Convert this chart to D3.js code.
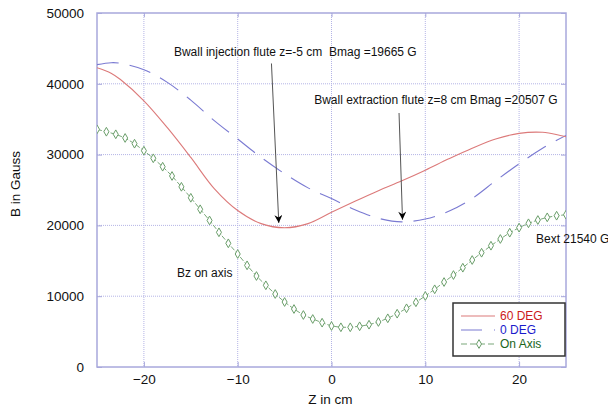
<!DOCTYPE html>
<html>
<head>
<meta charset="utf-8">
<script src="https://cdn.jsdelivr.net/npm/d3@7/dist/d3.min.js"></script>
<style>
  body { margin: 0; background: #fff; }
  text { font-family: Arial, "Liberation Sans", sans-serif; }
</style>
</head>
<body>
<svg></svg>
<script>
// field along z
const curveZ = [-25, -23.5, -22.5, -20, -17.5, -15, -12.5, -10, -7.5, -5, -2.5, 0, 2.5, 5, 7.5, 10, 12.5, 15, 17.5, 20, 22.5, 25];
const deg60 = [42270, 41500, 40600, 37600, 33800, 29600, 25200, 22100, 20250, 19665, 20250, 21850, 23400, 24900, 26300, 27800, 29400, 30900, 32200, 33000, 33150, 32530];
const deg0 = [42700, 42980, 42900, 42000, 40200, 37700, 34800, 32200, 29600, 27300, 25300, 23800, 22200, 21000, 20500, 20900, 22000, 23800, 26300, 28700, 30900, 32700];

const axisZ = [-25, -24, -23, -22, -21, -20, -19, -18, -17, -16, -15, -14, -13, -12, -11, -10, -9, -8, -7, -6, -5, -4, -3, -2, -1,
  0, 1, 2, 3, 4, 5, 6, 7, 8, 9, 10, 11, 12, 13, 14, 15, 16, 17, 18, 19, 20, 21, 22, 23, 24, 25];
const onAxis = [33570, 33230, 32870, 32350, 31540, 30550, 29480, 28290, 26980, 25450, 23900, 22280, 20700, 19025, 17470, 15960, 14360, 12850, 11540, 10310, 9180, 8190, 7345, 6780, 6260,
  5790, 5610, 5610, 5750, 5975, 6360, 6880, 7530, 8290, 9140, 10030, 10975, 12000, 12990, 14025, 15110, 16140, 17130, 18080, 18970, 19680, 20300, 20760, 21140, 21370, 21510];

const xTicks = [-20, -10, 0, 10, 20];
const yTicks = [0, 10000, 20000, 30000, 40000, 50000];

const seriesNames = ['60 DEG', '0 DEG', 'On Axis'];

const notes = [
  { text: 'Bwall injection flute z=-5 cm  Bmag =19665 G', z: -16.8, b: 43900 },
  { text: 'Bwall extraction flute z=8 cm Bmag =20507 G', z: -1.85, b: 37150 },
  { text: 'Bz on axis', z: -16.46, b: 12780 },
  { text: 'Bext 21540 G', z: 21.8, b: 17510 }
];
const arrows = [
  { z1: -6.4, b1: 42870, z2: -5.62, b2: 20340 },
  { z1: 7.2, b1: 35875, z2: 7.57, b2: 20800 }
];

const width = 608;
const height = 411;
const plotL = 97, plotR = 566, plotT = 13, plotB = 367;

const svg = d3.select('svg')
    .attr('width', width)
    .attr('height', height);

const x = d3.scaleLinear().domain([-25, 25]).range([plotL, plotR]);
const y = d3.scaleLinear().domain([0, 50000]).range([plotB, plotT]);

// grid
svg.append('g')
  .selectAll('line')
  .data(xTicks)
  .join('line')
    .attr('x1', d => x(d)).attr('x2', d => x(d))
    .attr('y1', plotT).attr('y2', plotB)
    .attr('stroke', '#b4b4e6')
    .attr('stroke-width', 1)
    .attr('stroke-dasharray', '1,1');

svg.append('g')
  .selectAll('line')
  .data(yTicks.slice(1, -1))
  .join('line')
    .attr('x1', plotL).attr('x2', plotR)
    .attr('y1', d => y(d)).attr('y2', d => y(d))
    .attr('stroke', '#b4b4e6')
    .attr('stroke-width', 1)
    .attr('stroke-dasharray', '1,1');

// axes, ticks inside
const axisColor = '#a8a8dc';
const fmt = d3.format('d');
svg.append('g')
    .attr('transform', `translate(0,${plotB})`)
    .call(d3.axisBottom(x).tickValues(xTicks).tickSize(-5).tickPadding(7).tickFormat(fmt))
    .call(g => g.select('.domain').remove());
svg.append('g')
    .attr('transform', `translate(0,${plotT})`)
    .call(d3.axisTop(x).tickValues(xTicks).tickSize(-4).tickFormat(''))
    .call(g => g.select('.domain').remove());
svg.append('g')
    .attr('transform', `translate(${plotL},0)`)
    .call(d3.axisLeft(y).tickValues(yTicks).tickSize(-5).tickPadding(13).tickFormat(fmt))
    .call(g => g.select('.domain').remove());
svg.append('g')
    .attr('transform', `translate(${plotR},0)`)
    .call(d3.axisRight(y).tickValues(yTicks).tickSize(-5).tickFormat(''))
    .call(g => g.select('.domain').remove());

svg.selectAll('.tick line').attr('stroke', axisColor);
svg.selectAll('.tick text')
    .attr('fill', '#111')
    .style('font-size', '13.5px')
    .style('font-family', 'Arial, "Liberation Sans", sans-serif');

svg.append('rect')
    .attr('x', plotL).attr('y', plotT)
    .attr('width', plotR - plotL).attr('height', plotB - plotT)
    .attr('fill', 'none')
    .attr('stroke', axisColor)
    .attr('stroke-width', 1.5);

svg.append('text')
    .attr('x', (plotL + plotR) / 2 - 1)
    .attr('y', 404)
    .attr('text-anchor', 'middle')
    .style('font-size', '13.5px')
    .attr('fill', '#111')
    .text('Z in cm');

svg.append('text')
    .attr('transform', `translate(20,184) rotate(-90)`)
    .attr('text-anchor', 'middle')
    .style('font-size', '13.5px')
    .attr('fill', '#111')
    .text('B in Gauss');

// curves
svg.append('clipPath').attr('id', 'plot')
  .append('rect')
    .attr('x', plotL).attr('y', plotT)
    .attr('width', plotR - plotL).attr('height', plotB - plotT);

const smooth = d3.line()
    .x((d, i) => x(curveZ[i]))
    .y(d => y(d))
    .curve(d3.curveCatmullRom);

const plot = svg.append('g').attr('clip-path', 'url(#plot)');

plot.append('path')
    .attr('d', smooth(deg0))
    .attr('fill', 'none')
    .attr('stroke', '#7a7ad2')
    .attr('stroke-width', 1.1)
    .attr('stroke-dasharray', '22,11');

plot.append('path')
    .attr('d', smooth(deg60))
    .attr('fill', 'none')
    .attr('stroke', '#dc7a7a')
    .attr('stroke-width', 1.1);

const straight = d3.line()
    .x((d, i) => x(axisZ[i]))
    .y(d => y(d));

plot.append('path')
    .attr('d', straight(onAxis))
    .attr('fill', 'none')
    .attr('stroke', '#7aa87a')
    .attr('stroke-width', 1)
    .attr('stroke-dasharray', '5,2');

const diamond = d3.symbol().type(d3.symbolDiamond).size(22);
plot.append('g')
  .selectAll('path')
  .data(onAxis)
  .join('path')
    .attr('transform', (d, i) => `translate(${x(axisZ[i])},${y(d)})`)
    .attr('d', diamond)
    .attr('fill', '#fff')
    .attr('stroke', '#6a9e6a')
    .attr('stroke-width', 1);

// annotations
svg.append('defs').append('marker')
    .attr('id', 'head')
    .attr('viewBox', '0 0 10 10')
    .attr('refX', 10).attr('refY', 5)
    .attr('markerUnits', 'userSpaceOnUse')
    .attr('markerWidth', 10).attr('markerHeight', 8)
    .attr('orient', 'auto')
  .append('path')
    .attr('d', 'M0,0 L10,5 L0,10 L3,5 Z')
    .attr('fill', '#000');

svg.append('g')
  .selectAll('line')
  .data(arrows)
  .join('line')
    .attr('x1', d => x(d.z1)).attr('y1', d => y(d.b1))
    .attr('x2', d => x(d.z2)).attr('y2', d => y(d.b2))
    .attr('stroke', '#555')
    .attr('stroke-width', 1)
    .attr('marker-end', 'url(#head)');

svg.append('g')
  .selectAll('text')
  .data(notes)
  .join('text')
    .attr('x', d => x(d.z))
    .attr('y', d => y(d.b))
    .style('font-size', '12px')
    .style('white-space', 'pre')
    .attr('fill', '#111')
    .text(d => d.text);

// legend
const legend = svg.append('g').attr('transform', 'translate(453,303)');
legend.append('rect')
    .attr('width', 112).attr('height', 53)
    .attr('fill', '#fff')
    .attr('stroke', '#333')
    .attr('stroke-width', 1.5);

const legendColors = ['#cc1a1a', '#1a1acc', '#1a661a'];
const legendStroke = ['#dc7a7a', '#7a7ad2', '#7aa87a'];
const legendDash = [null, '21,12', '6,3'];
const rowY = [13, 27, 41];

const rows = legend.selectAll('g')
  .data(seriesNames)
  .join('g')
    .attr('transform', (d, i) => `translate(0,${rowY[i]})`);

rows.append('line')
    .attr('x1', 8).attr('x2', 42)
    .attr('stroke', (d, i) => legendStroke[i])
    .attr('stroke-width', 1.1)
    .attr('stroke-dasharray', (d, i) => legendDash[i]);

rows.filter((d, i) => i === 2).append('path')
    .attr('transform', 'translate(26,0)')
    .attr('d', diamond)
    .attr('fill', '#fff')
    .attr('stroke', '#6a9e6a');

rows.append('text')
    .attr('x', 47)
    .attr('dy', '0.36em')
    .style('font-size', '12px')
    .attr('fill', (d, i) => legendColors[i])
    .text(d => d);
</script>
</body>
</html>
